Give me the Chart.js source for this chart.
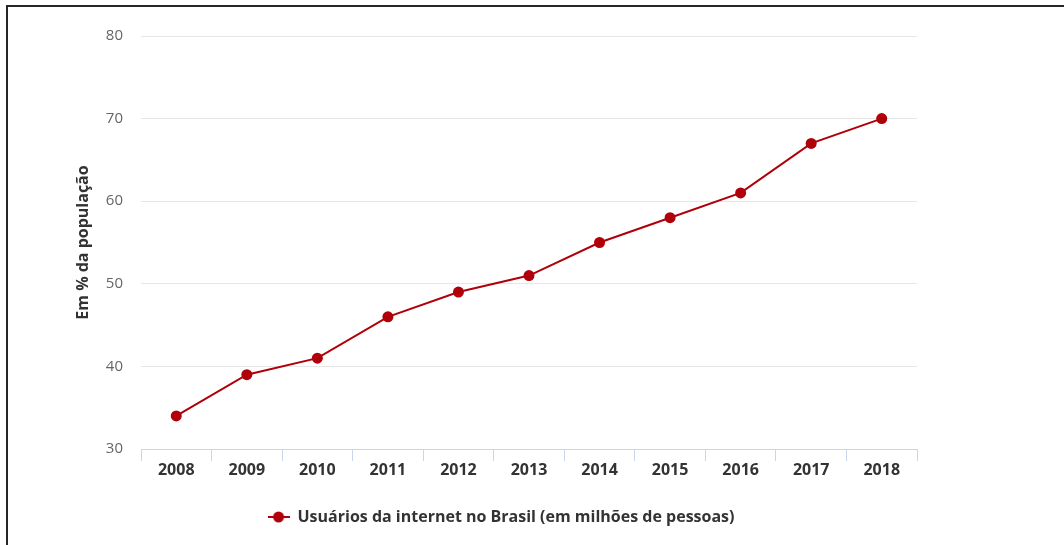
<!DOCTYPE html>
<html>
<head>
<meta charset="utf-8">
<script src="https://cdn.jsdelivr.net/npm/chart.js@4/dist/chart.umd.min.js"></script>
<style>
  html, body { margin: 0; padding: 0; background: #fff; }
  #wrap { position: relative; width: 1064px; height: 545px; overflow: hidden; }
  #frame {
    position: absolute; left: 6px; top: 5px; right: 0; bottom: 0;
    border-top: 2px solid #262626; border-left: 2px solid #262626;
    pointer-events: none;
  }
  #grafico { position: absolute; left: 0; top: 0; }
</style>
</head>
<body>
<div id="wrap">
  <canvas id="grafico" width="1002" height="545"></canvas>
  <div id="frame"></div>
</div>
<script>
const anos = ["2008", "2009", "2010", "2011", "2012", "2013", "2014", "2015", "2016", "2017", "2018"];
const usuarios = [34, 39, 41, 46, 49, 51, 55, 58, 61, 67, 70];
const eixoY = { min: 30, max: 80, passo: 10 };
const tituloSerie = "Usuários da internet no Brasil (em milhões de pessoas)";
const tituloEixo = "Em % da população";

const vermelho = "#b0000a";
const fonte = "'Open Sans', 'DejaVu Sans', sans-serif";

// marcador da legenda: linha curta com bolinha no meio
function marcadorLegenda() {
  const c = document.createElement("canvas");
  c.width = 22;
  c.height = 12;
  const ctx = c.getContext("2d");
  ctx.strokeStyle = vermelho;
  ctx.lineWidth = 2;
  ctx.beginPath();
  ctx.moveTo(0, 6);
  ctx.lineTo(22, 6);
  ctx.stroke();
  ctx.fillStyle = vermelho;
  ctx.beginPath();
  ctx.arc(11, 6, 5.5, 0, Math.PI * 2);
  ctx.fill();
  return c;
}

Chart.defaults.font.family = fonte;

new Chart(document.getElementById("grafico"), {
  type: "line",
  data: {
    labels: anos,
    datasets: [{
      label: tituloSerie,
      data: usuarios,
      borderColor: vermelho,
      backgroundColor: vermelho,
      borderWidth: 2,
      pointRadius: 5.5,
      pointBorderWidth: 0,
      tension: 0
    }]
  },
  options: {
    responsive: false,
    animation: false,
    layout: { padding: { top: 36, bottom: 10, left: 0, right: 0 } },
    plugins: {
      tooltip: { enabled: false },
      legend: {
        position: "bottom",
        labels: {
          usePointStyle: true,
          pointStyle: marcadorLegenda(),
          pointStyleWidth: 22,
          color: "#333",
          font: { size: 16, weight: "bold" },
          padding: 10
        }
      }
    },
    scales: {
      x: {
        offset: true,
        grid: { offset: true, drawOnChartArea: false, tickLength: 12, color: "#ccd6eb" },
        border: { color: "#ccd6eb" },
        ticks: { color: "#333", font: { size: 16, weight: "bold" }, padding: 0 },
        afterFit(s) { s.height = 50; }
      },
      y: {
        position: "left",
        min: eixoY.min,
        max: eixoY.max,
        ticks: { stepSize: eixoY.passo, color: "#666", font: { size: 15 }, padding: 18 },
        grid: { color: "#e6e6e6", drawTicks: false },
        border: { display: false },
        title: {
          display: true,
          text: tituloEixo,
          color: "#333",
          font: { size: 16, weight: "bold" },
          padding: { top: 74, bottom: 0 }
        },
        afterFit(s) { s.width = 141; }
      },
      // eixo vazio à direita só para reservar espaço
      margem: {
        type: "linear",
        position: "right",
        display: true,
        ticks: { display: false },
        grid: { display: false },
        border: { display: false },
        afterFit(s) { s.width = 85; }
      }
    }
  }
});
</script>
</body>
</html>
